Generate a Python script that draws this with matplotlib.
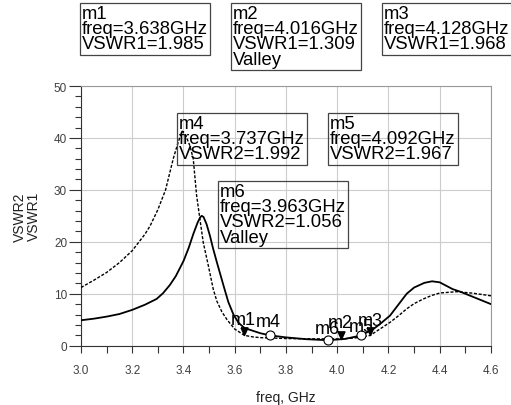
import numpy as np
import matplotlib
matplotlib.use("Agg")
from matplotlib import pyplot as plt
from matplotlib.ticker import MultipleLocator

plt.rcParams['font.family'] = ['Liberation Sans', 'DejaVu Sans']

# VSWR1 (dashed trace)
freq1 = [3.00, 3.05, 3.10, 3.15, 3.20, 3.25, 3.27, 3.30, 3.33, 3.36, 3.38, 3.395,
         3.41, 3.425, 3.438, 3.451, 3.464, 3.477, 3.497, 3.516, 3.53, 3.55, 3.57,
         3.60, 3.638, 3.67, 3.70, 3.80, 3.90, 4.016, 4.07, 4.128, 4.16, 4.206,
         4.24, 4.271, 4.30, 4.336, 4.37, 4.401, 4.466, 4.531, 4.60]
vswr1 = [11.2, 12.6, 14.1, 16.0, 18.3, 21.5, 23.1, 26.2, 30.0, 36.0, 39.3, 41.3,
         40.3, 38.5, 36.0, 29.0, 24.4, 19.9, 15.4, 10.9, 8.6, 6.5, 5.0,
         3.2, 1.985, 1.7, 1.55, 1.38, 1.32, 1.309, 1.5, 1.968, 3.0, 4.5,
         5.8, 7.1, 8.1, 9.0, 9.7, 10.15, 10.4, 10.1, 9.6]

# VSWR2 (solid trace)
freq2 = [3.00, 3.05, 3.10, 3.15, 3.20, 3.25, 3.295, 3.32, 3.347, 3.37, 3.40, 3.42,
         3.439, 3.455, 3.465, 3.471, 3.478, 3.49, 3.503, 3.515, 3.53, 3.556,
         3.575, 3.595, 3.615, 3.638, 3.70, 3.737, 3.80, 3.88, 3.963, 4.03, 4.092,
         4.141, 4.17, 4.206, 4.24, 4.271, 4.30, 4.34, 4.37, 4.40, 4.45, 4.48,
         4.50, 4.55, 4.60]
vswr2 = [4.9, 5.2, 5.6, 6.1, 6.9, 7.9, 9.0, 10.1, 11.7, 13.4, 16.3, 18.8,
         21.6, 23.7, 24.7, 25.0, 24.8, 23.4, 21.2, 18.8, 16.1, 11.6,
         8.4, 6.0, 4.4, 3.4, 2.4, 1.992, 1.6, 1.25, 1.056, 1.3, 1.967,
         3.2, 4.3, 5.8, 8.0, 10.0, 11.2, 12.1, 12.4, 12.2, 10.9, 10.4,
         10.0, 9.0, 8.0]

# markers: name, freq, value, trace, note
mk_names = ["m1", "m2", "m3", "m4", "m5", "m6"]
mk_freq = [3.638, 4.016, 4.128, 3.737, 4.092, 3.963]
mk_val = [1.985, 1.309, 1.968, 1.992, 1.967, 1.056]
mk_trace = ["VSWR1", "VSWR1", "VSWR1", "VSWR2", "VSWR2", "VSWR2"]
mk_note = ["", "Valley", "", "", "", "Valley"]

W, H = 511, 406
fig = plt.figure(figsize=(W / 100, H / 100), dpi=100)
ax = fig.add_axes([81 / W, 1 - 346.7 / H, 410 / W, 259.7 / H])

ax.plot(freq1, vswr1, color="black", lw=1.0, dashes=(2.2, 1.2), zorder=3)
ax.plot(freq2, vswr2, color="black", lw=1.3, zorder=3)

ax.set_xlim(3.0, 4.6)
ax.set_ylim(0, 50)
ax.xaxis.set_major_locator(MultipleLocator(0.2))
ax.xaxis.set_minor_locator(MultipleLocator(0.1))
ax.yaxis.set_major_locator(MultipleLocator(10))
ax.yaxis.set_minor_locator(MultipleLocator(2))
ax.set_xticklabels(["%.1f" % t for t in ax.get_xticks()])
ax.grid(True, which="major", color="#cccccc", lw=0.8)
ax.set_axisbelow(True)

ax.tick_params(axis="x", which="both", direction="out", length=5, width=0.8,
               color="#333333", labelsize=8.5, labelcolor="#404040", pad=8)
ax.tick_params(axis="y", which="major", direction="out", length=9, width=0.8,
               color="#333333", labelsize=8.5, labelcolor="#404040", pad=1)
ax.tick_params(axis="y", which="minor", direction="out", length=4.5, width=0.8,
               color="#333333")
for s in ["top", "right"]:
    ax.spines[s].set_color("#999999")
    ax.spines[s].set_linewidth(0.8)
for s in ["left", "bottom"]:
    ax.spines[s].set_color("#333333")
    ax.spines[s].set_linewidth(0.8)

ax.set_xlabel("freq, GHz", fontsize=10, color="#222222", labelpad=10)
ax.set_ylabel("VSWR2\nVSWR1", fontsize=10, color="#222222", labelpad=9,
              linespacing=1.0)

# marker symbols
tri = [(-0.45, 1.0), (0.45, 1.0), (0.0, 0.0), (-0.45, 1.0)]
lbl_off = {"m1": (-10, 8), "m2": (-9.5, 8.5), "m3": (-9, 7.5),
           "m4": (-10, 6.5), "m5": (-9, 3), "m6": (-9, 5)}
for i, name in enumerate(mk_names):
    if mk_trace[i] == "VSWR1":
        ax.plot(mk_freq[i], mk_val[i], marker=tri, ms=11, color="black",
                zorder=5, clip_on=False)
    else:
        ax.plot(mk_freq[i], mk_val[i], marker="o", ms=6.5, mfc="white",
                mec="black", mew=0.8, zorder=5, clip_on=False)
    ax.annotate(name, (mk_freq[i], mk_val[i]), xytext=lbl_off[name],
                textcoords="offset points", fontsize=13, ha="left",
                va="baseline", zorder=6)

# marker readout boxes (top-left corner in pixels)
box_pos = {"m1": (82, 6), "m2": (233, 6), "m3": (384, 6),
           "m4": (179, 116), "m5": (330, 116), "m6": (220, 184)}
for i, name in enumerate(mk_names):
    lines = [name, "freq=%.3fGHz" % mk_freq[i],
             "%s=%.3f" % (mk_trace[i], mk_val[i])]
    if mk_note[i]:
        lines.append(mk_note[i])
    x, y = box_pos[name]
    fig.text(x / W, 1 - y / H, "\n".join(lines), fontsize=13.3, ha="left",
             va="top", linespacing=0.86, color="black", zorder=10,
             bbox=dict(boxstyle="square,pad=0.12", fc="none", ec="#444444",
                       lw=0.9))

fig.savefig("out.png", dpi=100)
